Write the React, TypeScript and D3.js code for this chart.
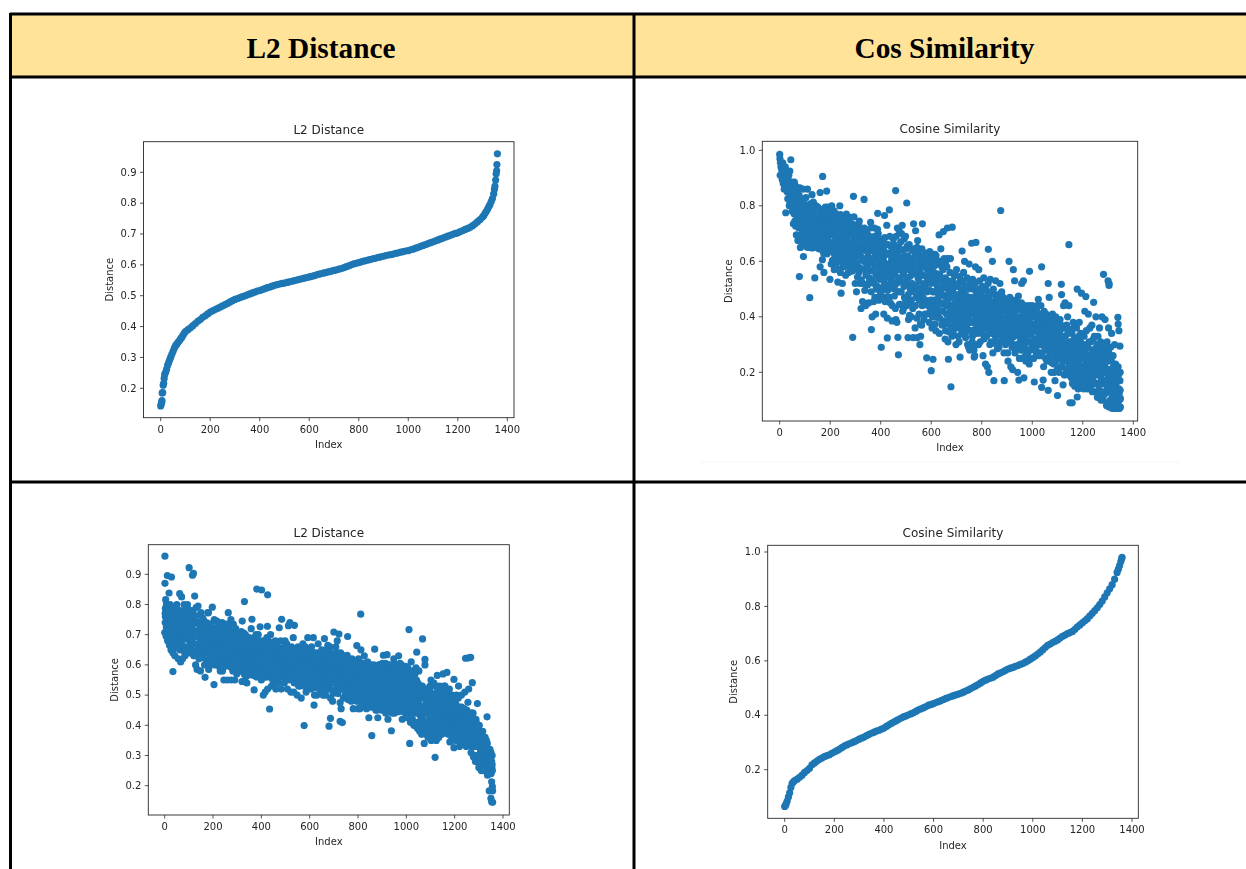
import React from "react";
import { scaleLinear } from "d3";

// values as [index, value]
const l2Sorted: number[][] = [[0,.143],[2,.148],[4,.155],[5,.16],[6,.185],[8,.186],[10,.21],[12,.216],[14,.232],[16,.245],[20,.252],[24,.262],[28,.275],[32,.283],[36,.292],[40,.3],[45,.31],[50,.32],[55,.33],[60,.338],[65,.343],[70,.349],[75,.354],[80,.36],[85,.365],[90,.372],[95,.378],[100,.384],[110,.39],[120,.396],[130,.403],[140,.41],[150,.417],[160,.423],[170,.43],[180,.435],[190,.441],[200,.447],[210,.451],[220,.455],[230,.459],[240,.463],[250,.467],[260,.471],[270,.475],[280,.48],[290,.484],[300,.488],[310,.491],[320,.494],[330,.497],[340,.5],[350,.503],[360,.506],[370,.509],[380,.512],[390,.515],[400,.517],[410,.52],[420,.523],[430,.526],[440,.528],[450,.531],[460,.534],[470,.536],[480,.538],[490,.54],[500,.541],[510,.543],[520,.545],[530,.547],[540,.549],[550,.551],[560,.553],[570,.555],[580,.557],[590,.559],[600,.561],[610,.563],[620,.565],[630,.568],[640,.57],[650,.572],[660,.574],[670,.576],[680,.578],[690,.58],[700,.582],[710,.584],[720,.586],[730,.588],[740,.591],[750,.594],[760,.597],[770,.6],[780,.603],[790,.605],[800,.607],[810,.61],[820,.612],[830,.614],[840,.616],[850,.618],[860,.62],[870,.622],[880,.624],[890,.626],[900,.628],[910,.63],[920,.632],[930,.633],[940,.635],[950,.637],[960,.639],[970,.641],[980,.643],[990,.645],[1000,.646],[1010,.649],[1020,.651],[1030,.654],[1040,.657],[1050,.66],[1060,.663],[1070,.666],[1080,.669],[1090,.672],[1100,.675],[1110,.678],[1120,.681],[1130,.684],[1140,.687],[1150,.69],[1160,.693],[1170,.696],[1180,.699],[1190,.702],[1200,.704],[1210,.708],[1220,.711],[1230,.715],[1240,.718],[1250,.722],[1260,.727],[1270,.733],[1280,.74],[1290,.747],[1300,.755],[1305,.76],[1310,.767],[1315,.773],[1320,.78],[1325,.788],[1330,.795],[1335,.805],[1340,.815],[1345,.83],[1348,.845],[1350,.855],[1353,.875],[1355,.895],[1357,.905],[1358,.925],[1360,.96]];

const cosSorted: number[][] = [[0,.065],[3,.068],[6,.075],[10,.085],[15,.1],[20,.115],[25,.135],[30,.15],[35,.155],[40,.16],[50,.165],[60,.172],[70,.18],[80,.19],[90,.197],[100,.205],[110,.218],[120,.225],[130,.232],[140,.238],[150,.243],[160,.248],[170,.252],[180,.255],[190,.26],[200,.265],[210,.27],[220,.275],[230,.281],[240,.287],[250,.291],[260,.295],[270,.299],[280,.303],[290,.307],[300,.312],[310,.316],[320,.32],[330,.325],[340,.33],[350,.334],[360,.338],[370,.342],[380,.345],[390,.349],[400,.353],[410,.359],[420,.365],[430,.37],[440,.375],[450,.38],[460,.385],[470,.39],[480,.395],[490,.398],[500,.402],[510,.406],[520,.41],[530,.415],[540,.42],[550,.424],[560,.428],[570,.432],[580,.437],[590,.44],[600,.443],[610,.447],[620,.45],[630,.454],[640,.458],[650,.462],[660,.465],[670,.469],[680,.472],[690,.475],[700,.478],[710,.481],[720,.485],[730,.489],[740,.493],[750,.498],[760,.503],[770,.508],[780,.513],[790,.519],[800,.525],[810,.529],[820,.533],[830,.536],[840,.54],[850,.546],[860,.552],[870,.556],[880,.56],[890,.565],[900,.57],[910,.573],[920,.576],[930,.58],[940,.583],[950,.587],[960,.59],[970,.595],[980,.6],[990,.606],[1000,.612],[1010,.618],[1020,.625],[1030,.632],[1040,.64],[1050,.649],[1060,.657],[1070,.662],[1080,.667],[1090,.672],[1100,.677],[1110,.684],[1120,.69],[1130,.695],[1140,.7],[1150,.704],[1160,.708],[1170,.716],[1180,.725],[1190,.732],[1200,.74],[1210,.747],[1220,.755],[1230,.765],[1240,.775],[1250,.785],[1260,.795],[1270,.807],[1280,.82],[1290,.835],[1300,.85],[1310,.865],[1320,.88],[1330,.9],[1340,.925],[1345,.937],[1350,.95],[1355,.965],[1358,.975],[1360,.98]];

const cosScatter: number[][] = [[0,.985],[1,.97],[3,.955],[5,.94],[2,.91],[8,.93],[10,.895],[12,.955],[14,.88],[16,.92],[18,.86],[20,.9],[22,.94],[24,.775],[26,.875],[28,.9],[30,.85],[32,.825],[34,.87],[36,.91],[38,.8],[40,.925],[42,.86],[44,.966],[46,.82],[48,.885],[50,.78],[52,.87],[54,.735],[56,.84],[58,.885],[60,.745],[62,.81],[64,.87],[66,.695],[68,.76],[70,.85],[72,.675],[74,.8],[76,.72],[78,.545],[80,.865],[82,.65],[84,.82],[86,.75],[88,.7],[90,.79],[92,.86],[94,.617],[96,.72],[98,.66],
[100,.77],[104,.83],[106,.68],[108,.74],[110,.86],[112,.7],[114,.65],[116,.8],[119,.469],[120,.76],[124,.67],[126,.72],[128,.84],[130,.78],[134,.65],[136,.74],[139,.54],[140,.7],[144,.8],[146,.66],[150,.76],[152,.72],[155,.645],[160,.848],[160,.58],[162,.78],[165,.69],[168,.74],[169,.606],[170,.906],[172,.66],[175,.56],[176,.79],[180,.72],[182,.64],[186,.853],[186,.76],[190,.68],[192,.795],[195,.74],[199,.535],[198,.655],
[204,.59],[206,.8],[208,.72],[212,.76],[214,.67],[216,.57],[220,.63],[222,.7],[225,.77],[228,.6],[230,.525],[232,.74],[235,.65],[238,.8],[240,.56],[243,.485],[244,.69],[246,.62],[248,.52],[250,.75],[252,.58],[255,.66],[258,.72],[262,.6],[264,.77],[266,.69],[270,.64],[272,.56],[275,.74],[278,.62],[280,.7],[284,.66],[286,.565],[289,.326],[292,.834],[294,.76],[296,.6],[298,.68],[299,.52],[300,.63],
[304,.49],[306,.72],[310,.58],[312,.66],[315,.745],[318,.52],[320,.62],[322,.43],[325,.69],[328,.455],[332,.6],[334,.823],[335,.72],[338,.66],[340,.44],[344,.56],[346,.7],[350,.63],[352,.45],[355,.54],[358,.68],[360,.74],[363,.354],[365,.6],[366,.4],[368,.53],[370,.66],[372,.455],[375,.72],[378,.58],[380,.41],[382,.5],[385,.64],[388,.773],[390,.7],[392,.46],[394,.56],[396,.62],[398,.68],
[402,.29],[404,.465],[406,.54],[410,.61],[412,.41],[415,.765],[418,.5],[420,.66],[422,.47],[424,.73],[426,.324],[426,.395],[428,.56],[430,.63],[432,.5],[434,.785],[436,.69],[438,.45],[440,.59],[442,.53],[445,.385],[448,.64],[450,.68],[452,.56],[455,.5],[459,.855],[460,.39],[462,.6],[464,.38],[466,.72],[468,.326],[470,.263],[470,.54],[472,.65],[475,.49],[478,.445],[480,.6],[482,.7],[485,.73],[488,.56],[490,.43],[492,.51],[495,.62],[498,.69],[500,.46],
[503,.81],[505,.655],[506,.58],[508,.325],[510,.39],[512,.52],[515,.61],[518,.45],[520,.4],[524,.56],[528,.325],[530,.735],[532,.645],[534,.5],[536,.36],[538,.71],[540,.47],[542,.6],[545,.325],[546,.675],[548,.54],[550,.64],[552,.41],[555,.3],[556,.56],[558,.33],[560,.49],[562,.37],[565,.735],[568,.6],[570,.45],[572,.52],[575,.41],[578,.63],[580,.5],[582,.252],[585,.57],[588,.44],[590,.62],[592,.38],[595,.54],[598,.46],[600,.206],[600,.6],
[603,.36],[607,.247],[608,.49],[610,.56],[612,.42],[615,.625],[618,.35],[620,.52],[622,.4],[625,.6],[628,.46],[631,.695],[632,.34],[634,.55],[636,.42],[638,.645],[640,.5],[642,.58],[645,.38],[648,.707],[650,.45],[652,.52],[655,.32],[658,.6],[660,.41],[664,.72],[664,.61],[666,.31],[668,.247],[670,.49],[672,.39],[674,.56],[676,.61],[678,.148],[680,.44],[682,.33],[683,.723],[685,.53],[688,.36],[690,.48],[692,.4],[695,.55],[698,.3],[700,.57],
[702,.44],[705,.37],[708,.52],[710,.31],[712,.46],[714,.255],[716,.53],[718,.4],[722,.637],[724,.35],[726,.49],[728,.56],[730,.43],[732,.6],[735,.34],[738,.5],[740,.39],[745,.45],[748,.29],[750,.59],[752,.28],[755,.42],[758,.35],[760,.665],[762,.31],[764,.535],[766,.47],[768,.38],[770,.255],[772,.26],[775,.58],[777,.668],[778,.41],[780,.3],[782,.45],[785,.36],[788,.57],[790,.5],[795,.43],[798,.34],[800,.39],
[802,.47],[805,.26],[808,.54],[810,.41],[812,.33],[815,.23],[816,.5],[820,.37],[822,.22],[824,.44],[826,.643],[828,.2],[830,.48],[832,.3],[834,.535],[836,.39],[838,.43],[840,.34],[842,.6],[844,.27],[846,.5],[848,.17],[850,.37],[852,.45],[855,.53],[858,.31],[860,.41],[864,.35],[866,.48],[868,.29],[870,.42],[872,.52],[875,.783],[878,.33],[880,.45],[882,.38],[885,.47],[888,.27],[889,.17],[892,.36],[895,.42],[898,.32],
[900,.46],[904,.24],[906,.39],[908,.6],[910,.34],[912,.44],[915,.22],[918,.37],[920,.29],[922,.21],[925,.57],[926,.42],[928,.33],[930,.53],[932,.27],[935,.4],[938,.46],[940,.35],[942,.2],[945,.475],[947,.172],[950,.38],[952,.31],[955,.43],[958,.52],[960,.25],[962,.36],[965,.53],[967,.18],[968,.41],[970,.29],[972,.44],[975,.24],[978,.33],[980,.38],[982,.27],[985,.42],[988,.23],[989,.564],[990,.35],[992,.31],[995,.4],[998,.29],
[1000,.44],[1002,.36],[1005,.25],[1008,.165],[1010,.32],[1012,.4],[1015,.28],[1018,.35],[1020,.44],[1022,.3],[1024,.463],[1026,.38],[1028,.33],[1030,.41],[1032,.27],[1035,.36],[1037,.58],[1037,.146],[1040,.3],[1042,.39],[1043,.172],[1045,.22],[1048,.33],[1050,.37],[1052,.28],[1055,.41],[1058,.24],[1060,.33],[1063,.52],[1063,.135],[1065,.3],[1067,.47],[1068,.38],[1070,.26],[1072,.35],[1075,.2],[1078,.32],[1080,.41],[1082,.29],[1085,.23],[1088,.37],[1090,.17],[1092,.31],[1095,.27],[1098,.39],[1100,.116],
[1102,.34],[1104,.25],[1106,.2],[1108,.3],[1110,.39],[1112,.28],[1115,.517],[1116,.48],[1118,.22],[1120,.33],[1122,.155],[1124,.44],[1126,.28],[1128,.36],[1130,.45],[1132,.24],[1135,.3],[1138,.2],[1140,.4],[1142,.26],[1145,.66],[1145,.44],[1148,.31],[1149,.09],[1150,.35],[1152,.22],[1155,.18],[1158,.09],[1160,.28],[1162,.38],[1164,.24],[1166,.32],[1168,.15],[1170,.21],[1172,.27],[1175,.36],[1178,.5],[1178,.111],[1180,.3],[1182,.14],[1184,.23],[1186,.38],[1188,.19],[1190,.28],[1192,.34],[1195,.485],[1196,.16],[1198,.25],
[1200,.3],[1202,.21],[1204,.14],[1206,.27],[1208,.42],[1210,.19],[1212,.473],[1214,.35],[1216,.24],[1218,.14],[1220,.29],[1222,.41],[1224,.2],[1226,.26],[1228,.36],[1230,.17],[1232,.31],[1234,.23],[1236,.37],[1238,.13],[1240,.28],[1243,.452],[1244,.19],[1246,.33],[1248,.24],[1250,.16],[1252,.4],[1254,.29],[1256,.21],[1258,.11],[1260,.33],[1262,.25],[1264,.14],[1266,.36],[1268,.19],[1270,.29],[1272,.1],[1274,.23],[1276,.4],[1278,.16],[1280,.3],[1282,.553],[1284,.22],[1286,.12],[1288,.39],[1290,.26],[1292,.17],[1294,.08],[1296,.31],[1298,.21],
[1300,.53],[1300,.13],[1302,.36],[1304,.513],[1304,.52],[1304,.075],[1306,.25],[1308,.17],[1310,.29],[1312,.1],[1314,.34],[1314,.21],[1316,.07],[1318,.15],[1320,.26],[1322,.09],[1324,.19],[1326,.07],[1326,.3],[1328,.13],[1330,.23],[1332,.07],[1332,.16],[1334,.1],[1336,.2],[1336,.07],[1338,.12],[1339,.398],[1340,.374],[1340,.22],[1340,.17],[1342,.07],[1343,.35],[1343,.14],[1345,.1],[1345,.07],[1347,.294],[1347,.17],[1348,.2],[1348,.135],[1349,.105],[1349,.075]];

// the thick middle of the band
const cosBand: number[][] = [[33,.893],[37,.848],[41,.812],[47,.856],[51,.833],[53,.797],[57,.771],[59,.822],[61,.853],[63,.727],[67,.786],[69,.814],[71,.738],[73,.773],[77,.838],[79,.757],[81,.795],[83,.692],[85,.783],[87,.812],[89,.733],[91,.671],[93,.764],[95,.823],[97,.692],[99,.744],[101,.803],[103,.713],[105,.757],[107,.652],[109,.785],[111,.727],[113,.768],[115,.693],[117,.748],[118,.663],[121,.807],[122,.716],[123,.753],[125,.694],[127,.784],[129,.648],[131,.733],[133,.813],[135,.702],[137,.765],[138,.678],[141,.747],[143,.652],[145,.723],[147,.771],[149,.692],[151,.795],[153,.657],[154,.743],[156,.705],[158,.774],[159,.668],[161,.727],[163,.643],[164,.756],[166,.712],[167,.785],[171,.694],[173,.747],[174,.629],[177,.765],[178,.676],[179,.729],[181,.795],[183,.701],[184,.754],[185,.66],[187,.723],[188,.627],[189,.786],[191,.704],[193,.745],[194,.664],[196,.713],[197,.772],[201,.636],[202,.695],[203,.747],[205,.666],[207,.775],[209,.603],[210,.698],[211,.735],[213,.654],[215,.782],[217,.713],[218,.622],[219,.674],[221,.748],[223,.592],[224,.656],[226,.723],[227,.686],[229,.757],[231,.637],[233,.704],[234,.571],[236,.675],[237,.733],[239,.613],[241,.768],[242,.642],[245,.714],[247,.685],[249,.592],[251,.734],[253,.641],[254,.703],[256,.583],[257,.757],[259,.661],[260,.712],[261,.55],[263,.625],[265,.735],[267,.593],[268,.673],[269,.744],[271,.704],[273,.624],[274,.667],[276,.583],[277,.711],[279,.652],[281,.758],[282,.606],[283,.725],[285,.642],[287,.693],[288,.565],[290,.733],[291,.623],[293,.675],[295,.712],[297,.58],[301,.707],[303,.652],
[305,.595],[307,.672],[308,.543],[309,.702],[311,.62],[313,.735],[314,.56],[316,.641],[317,.693],[319,.575],[321,.66],[323,.533],[324,.715],[326,.605],[327,.648],[329,.683],[330,.52],[331,.572],[333,.64],[336,.695],[337,.495],[339,.61],[341,.663],[342,.55],[343,.705],[345,.59],[347,.635],[348,.515],[349,.672],[351,.575],[353,.692],[354,.612],[356,.53],[357,.655],[359,.595],[361,.72],[362,.49],[364,.64],[367,.565],[369,.685],[371,.605],[373,.52],[374,.652],[376,.69],[377,.47],[379,.625],[381,.55],[383,.672],[384,.587],[386,.51],[387,.715],[389,.645],[391,.47],[393,.61],[395,.535],[397,.655],[399,.575],[400,.485],[401,.635],[403,.59],[405,.505],[407,.665],[408,.555],[409,.47],[411,.64],[413,.527],[414,.595],[416,.685],[417,.455],[419,.575],[421,.515],[423,.625],[425,.545],[427,.495],[429,.66],[431,.59],[433,.47],[435,.625],[437,.54],[439,.655],[441,.505],[443,.605],[444,.57],[446,.44],[447,.525],[449,.62],[451,.585],[453,.66],[454,.475],[456,.55],[457,.615],[458,.43],[461,.69],[463,.52],[465,.585],[467,.635],[469,.49],[471,.57],[473,.71],[474,.445],[476,.615],[477,.53],[479,.67],[481,.49],[483,.58],[484,.64],[486,.525],[487,.42],[489,.6],[491,.55],[493,.68],[494,.47],[496,.575],[497,.515],[499,.645],[501,.595],[502,.44],[504,.53],[507,.62],[509,.48],[511,.57],[513,.66],[514,.405],[516,.545],[517,.5],[519,.6],[521,.46],[523,.64],[525,.52],[526,.58],[527,.43],[529,.61],[531,.49],[533,.555],[535,.63],[537,.44],[539,.575],[541,.51],[543,.395],[544,.65],[547,.48],[549,.6],[551,.53],[553,.46],[554,.62],[557,.375],[559,.585],[561,.505],[563,.645],[564,.44],[566,.55],[567,.47],[569,.62],[571,.39],[573,.58],[574,.51],[576,.6],[577,.46],[579,.545],[581,.62],[583,.41],[584,.49],[586,.6],[587,.53],[589,.45],[591,.565],[593,.495],[594,.635],[596,.42],[597,.58],[599,.52],[601,.44],[602,.615],[604,.55],[605,.4],[606,.49],[609,.625],[611,.46],[613,.53],[614,.585],[616,.375],[617,.49],[619,.62],[621,.44],[623,.555],[624,.51],[626,.415],[627,.59],[629,.475],[630,.54],[633,.395],[635,.5],[637,.6],[639,.445],[641,.53],[643,.37],[644,.48],[646,.57],[647,.42],[649,.51],
[651,.61],[653,.385],[654,.475],[656,.54],[657,.35],[659,.44],[661,.505],[662,.58],[663,.375],[665,.46],[667,.53],[669,.41],[671,.345],[673,.485],[675,.43],[677,.52],[679,.365],[681,.47],[684,.405],[686,.5],[687,.34],[689,.445],[691,.55],[693,.38],[694,.48],[696,.42],[697,.515],[699,.36],[701,.46],[703,.39],[704,.51],[706,.43],[707,.33],[709,.48],[711,.41],[713,.545],[715,.365],[717,.45],[719,.5],[720,.34],[721,.42],[723,.47],[725,.385],[727,.53],[729,.36],[731,.455],[733,.405],[734,.51],[736,.325],[737,.44],[739,.475],[741,.37],[742,.54],[743,.42],[744,.3],[746,.5],[747,.395],[749,.46],[751,.35],[753,.52],[754,.41],[756,.3],[757,.47],[759,.38],[761,.44],[763,.33],[765,.5],[767,.415],[769,.28],[771,.46],[773,.355],[774,.52],[776,.395],[779,.49],[781,.34],[783,.43],[784,.375],[786,.47],[787,.3],[789,.41],[791,.53],[792,.36],[793,.45],[794,.31],[796,.49],[797,.385],[799,.44],[801,.35],[803,.51],[804,.415],[806,.38],[807,.46],[809,.32],[811,.495],[813,.43],[814,.36],[817,.41],[818,.47],[819,.33],[821,.445],[823,.39],[825,.52],[827,.35],[829,.42],[831,.46],[833,.37],[835,.405],[837,.31],[839,.49],[841,.395],[843,.44],[845,.355],[847,.41],[849,.305],[851,.48],[853,.38],[854,.33],[856,.43],[857,.46],[859,.36],[861,.39],[862,.285],[863,.44],[865,.34],[867,.41],[869,.37],[871,.465],[873,.31],[874,.395],[876,.43],[877,.35],[879,.49],[881,.375],[883,.42],[884,.325],[886,.395],[887,.46],[889,.34],[891,.43],[893,.385],[894,.3],[896,.455],[897,.36],[899,.405],[901,.33],[902,.44],[903,.27],[905,.375],[907,.42],[909,.355],[911,.47],[913,.31],[914,.4],[916,.35],[917,.44],[919,.385],[921,.325],[923,.46],[924,.37],[927,.3],[929,.41],[931,.36],[933,.445],[934,.29],[936,.39],[937,.34],[939,.425],[941,.37],[943,.3],[944,.44],[946,.35],[948,.4],[949,.25],[951,.33],
[953,.425],[954,.37],[956,.28],[957,.45],[959,.34],[961,.395],[963,.3],[964,.42],[966,.35],[969,.255],[971,.38],[973,.32],[974,.405],[976,.27],[977,.43],[979,.36],[981,.31],[983,.4],[984,.25],[986,.345],[987,.44],[991,.38],[993,.28],[994,.42],[996,.335],[997,.37],[999,.25],[1001,.4],[1003,.31],[1004,.37],[1006,.43],[1007,.285],[1009,.35],[1011,.41],[1013,.32],[1014,.375],[1016,.27],[1017,.43],[1019,.31],[1021,.39],[1023,.345],[1025,.26],[1027,.41],[1029,.37],[1031,.3],[1033,.35],[1034,.44],[1036,.32],[1038,.4],[1039,.26],[1041,.345],[1044,.38],[1046,.295],[1047,.42],[1049,.31],[1051,.35],[1053,.25],[1054,.39],[1056,.3],[1057,.36],[1059,.28],[1061,.4],[1062,.315],[1064,.37],[1066,.255],[1069,.34],[1071,.295],[1073,.39],[1074,.32],[1076,.235],[1077,.37],[1079,.28],[1081,.345],[1083,.39],[1084,.26],[1086,.31],[1087,.2],[1089,.35],[1091,.285],[1093,.4],[1094,.24],[1096,.33],[1097,.3],[1099,.21],[1101,.365],[1103,.29],[1105,.34],[1107,.26],[1109,.35],[1111,.22],[1113,.31],[1114,.37],[1117,.27],[1119,.315],[1121,.24],[1123,.36],[1125,.3],[1127,.19],[1129,.26],[1131,.33],[1133,.28],[1134,.21],[1136,.37],[1137,.305],[1139,.25],[1141,.34],[1143,.19],[1144,.29],[1146,.225],[1147,.355],[1151,.27],[1153,.31],[1154,.2],
[1156,.25],[1157,.34],[1159,.16],[1161,.3],[1163,.22],[1165,.27],[1167,.37],[1169,.19],[1171,.25],[1173,.31],[1174,.17],[1176,.23],[1177,.29],[1179,.2],[1181,.26],[1183,.33],[1185,.15],[1187,.25],[1189,.21],[1191,.31],[1193,.18],[1194,.26],[1197,.22],[1199,.29],[1201,.17],[1203,.25],[1205,.33],[1207,.2],[1209,.28],[1211,.23],[1213,.15],[1215,.3],[1217,.21],[1219,.26],[1221,.17],[1223,.24],[1225,.31],[1227,.19],[1229,.25],[1231,.22],[1233,.15],[1235,.28],[1237,.2],[1239,.245],[1241,.17],[1242,.32],[1245,.23],[1247,.27],[1249,.13],[1251,.21],[1253,.25],[1255,.16],[1257,.3],[1259,.19],[1261,.24],[1263,.12],[1265,.27],[1267,.16],[1269,.22],[1271,.31],[1273,.18],[1275,.13],[1277,.25],[1279,.2],[1281,.1],[1283,.27],[1285,.17],[1287,.225],[1289,.13],[1291,.2],[1293,.29],[1295,.15],[1297,.24],[1299,.09],[1301,.19],[1303,.27],[1305,.14],[1307,.21],[1309,.1],[1311,.17],[1313,.24],[1315,.12],[1317,.19],[1319,.08],[1321,.22],[1323,.15],[1325,.1],[1327,.2],[1329,.17],[1331,.08],[1333,.22],[1335,.13],[1337,.17],[1339,.09],[1341,.19],[1344,.12]];

const l2Scatter: number[][] = [[0,.707],[1,.96],[1,.87],[2,.77],[3,.76],[4,.816],[4,.785],[5,.74],[6,.695],[7,.8],[8,.76],[10,.72],[11,.896],[12,.68],[14,.79],[15,.75],[16,.7],[18,.838],[18,.77],[20,.665],[21,.73],[23,.8],[25,.71],[26,.65],[28,.891],[28,.76],[30,.78],[32,.68],[34,.578],[34,.64],[36,.745],[38,.79],[40,.7],[42,.63],[44,.76],[46,.66],[48,.72],[50,.8],[52,.68],[54,.75],[56,.62],[58,.71],[60,.78],[62,.836],[62,.65],[64,.74],[66,.61],[68,.69],[70,.825],[72,.77],[74,.62],[76,.72],[78,.66],[80,.8],[82,.75],[84,.63],[86,.69],[88,.78],[90,.725],[92,.65],[94,.8],[96,.7],[98,.76],
[101,.922],[102,.64],[104,.72],[106,.68],[108,.76],[110,.65],[112,.73],[115,.897],[116,.69],[119,.903],[118,.78],[120,.63],[122,.75],[124,.828],[125,.67],[128,.6],[130,.79],[132,.71],[134,.585],[136,.65],[138,.795],[140,.74],[142,.62],[145,.69],[148,.58],[150,.773],[152,.66],[155,.72],[158,.63],[160,.75],[162,.68],[165,.6],[167,.559],[168,.7],[170,.65],[173,.74],[176,.67],[178,.773],[181,.773],[182,.585],[184,.62],[186,.7],[188,.66],[190,.6],[192,.735],[194,.65],[197,.791],[198,.69],[200,.63],
[204,.535],[205,.75],[206,.67],[208,.72],[210,.6],[212,.64],[215,.7],[218,.66],[220,.6],[222,.73],[225,.63],[228,.68],[230,.58],[232,.71],[235,.65],[238,.74],[240,.61],[242,.68],[245,.55],[248,.7],[250,.64],[252,.72],[255,.6],[258,.67],[260,.55],[263,.773],[264,.63],[266,.72],[268,.69],[270,.595],[272,.66],[274,.75],[276,.55],[278,.62],[280,.7],[282,.58],[284,.735],[286,.64],[288,.68],[290,.55],[292,.6],[294,.72],[296,.65],[298,.57],[300,.68],
[302,.62],[305,.7],[308,.58],[310,.66],[312,.63],[315,.6],[318,.68],[320,.545],[321,.745],[322,.64],[325,.67],[328,.6],[330,.81],[332,.55],[334,.7],[336,.63],[338,.67],[340,.54],[342,.58],[345,.65],[348,.6],[350,.69],[352,.63],[355,.57],[358,.72],[361,.751],[360,.61],[362,.66],[365,.68],[368,.59],[370,.517],[372,.64],[375,.6],[378,.7],[381,.851],[380,.56],[382,.66],[385,.62],[388,.68],[390,.58],[392,.64],[395,.726],[396,.6],[398,.67],[400,.55],
[401,.848],[402,.62],[405,.68],[408,.5],[410,.58],[412,.65],[414,.6],[416,.51],[418,.66],[420,.56],[422,.62],[425,.728],[426,.832],[426,.52],[428,.68],[430,.6],[432,.64],[434,.454],[436,.56],[438,.7],[440,.62],[442,.53],[445,.66],[448,.58],[450,.64],[452,.54],[455,.6],[458,.68],[460,.52],[462,.63],[465,.57],[468,.66],[470,.61],[472,.54],[474,.723],[476,.64],[478,.58],[480,.68],[482,.52],[484,.751],[485,.62],[488,.56],[490,.65],[492,.6],[495,.54],[498,.68],[500,.63],
[502,.58],[505,.67],[508,.52],[510,.62],[512,.73],[514,.56],[516,.65],[518,.74],[520,.6],[522,.51],[525,.66],[528,.57],[530,.63],[532,.69],[534,.51],[537,.731],[538,.6],[540,.55],[542,.65],[545,.58],[548,.5],[550,.62],[552,.66],[555,.56],[558,.6],[560,.53],[562,.65],[565,.49],[568,.58],[570,.63],[572,.67],[574,.54],[577,.399],[578,.6],[580,.56],[582,.66],[585,.51],[588,.62],[590,.58],[592,.69],[595,.54],[598,.63],[600,.57],
[602,.61],[605,.52],[608,.66],[610,.58],[612,.63],[615,.69],[618,.467],[618,.55],[620,.5],[622,.6],[625,.64],[628,.56],[630,.5],[632,.61],[635,.67],[638,.54],[640,.6],[642,.63],[645,.52],[648,.57],[650,.65],[652,.6],[655,.5],[658,.55],[661,.687],[660,.62],[662,.58],[665,.53],[668,.65],[670,.6],[672,.56],[675,.665],[678,.52],[680,.397],[680,.62],[682,.58],[684,.66],[686,.423],[686,.49],[688,.55],[690,.6],[692,.64],[695,.48],[698,.57],[700,.709],[700,.62],
[702,.56],[705,.6],[708,.66],[710,.52],[712,.58],[714,.68],[716,.55],[718,.62],[721,.702],[722,.53],[724,.6],[726,.413],[726,.475],[728,.64],[730,.455],[732,.56],[735,.409],[736,.61],[738,.52],[740,.58],[742,.63],[745,.55],[748,.5],[750,.6],[752,.56],[755,.632],[757,.694],[758,.52],[760,.485],[762,.59],[765,.54],[768,.6],[770,.56],[772,.48],[775,.62],[778,.52],[780,.455],[782,.58],[785,.61],[788,.545],[790,.6],[792,.5],[795,.664],[796,.48],[798,.56],[800,.455],
[802,.62],[805,.52],[808,.58],[808,.455],[811,.768],[812,.65],[814,.56],[816,.5],[818,.6],[820,.54],[824,.58],[826,.63],[828,.48],[830,.52],[832,.6],[835,.455],[838,.56],[840,.61],[842,.5],[845,.425],[846,.54],[848,.47],[850,.58],[852,.6],[855,.52],[857,.366],[858,.48],[860,.56],[862,.51],[865,.6],[868,.46],[869,.652],[870,.53],[872,.57],[875,.49],[878,.45],[880,.54],[882,.425],[884,.59],[886,.51],[888,.47],[890,.56],[892,.6],[895,.53],[898,.45],[900,.5],
[902,.57],[905,.632],[908,.47],[910,.53],[912,.59],[915,.44],[918,.51],[920,.634],[922,.56],[924,.42],[926,.48],[928,.53],[930,.59],[932,.46],[935,.55],[938,.382],[938,.5],[940,.6],[942,.44],[945,.54],[948,.62],[950,.49],[952,.57],[955,.45],[958,.52],[960,.6],[962,.47],[965,.55],[968,.63],[970,.5],[972,.57],[975,.45],[978,.53],[980,.6],[982,.48],[985,.455],[988,.55],[990,.58],[992,.5],[995,.53],[998,.46],[1000,.57],
[1002,.425],[1004,.5],[1006,.59],[1008,.54],[1011,.717],[1012,.47],[1014,.34],[1014,.56],[1016,.44],[1018,.51],[1020,.61],[1022,.48],[1024,.55],[1026,.44],[1028,.58],[1030,.5],[1032,.46],[1035,.53],[1038,.41],[1040,.59],[1043,.642],[1044,.49],[1046,.39],[1048,.54],[1050,.44],[1052,.58],[1054,.4],[1056,.5],[1058,.46],[1060,.38],[1062,.53],[1064,.42],[1067,.686],[1068,.49],[1070,.38],[1072,.45],[1074,.34],[1077,.6],[1077,.618],[1076,.52],[1078,.41],[1080,.47],[1082,.39],[1085,.5],[1088,.44],[1090,.36],[1092,.41],[1095,.48],[1098,.53],[1100,.45],
[1102,.55],[1104,.38],[1106,.49],[1108,.42],[1110,.36],[1112,.5],[1115,.44],[1119,.294],[1120,.53],[1122,.39],[1124,.35],[1126,.47],[1128,.565],[1130,.42],[1132,.5],[1134,.36],[1136,.45],[1138,.53],[1140,.4],[1142,.48],[1145,.385],[1148,.44],[1150,.5],[1152,.57],[1154,.41],[1156,.46],[1158,.38],[1160,.53],[1162,.43],[1165,.49],[1168,.575],[1170,.39],[1172,.46],[1175,.42],[1178,.52],[1180,.345],[1182,.44],[1184,.49],[1186,.38],[1188,.41],[1190,.5],[1192,.36],[1194,.45],[1197,.552],[1197,.326],[1198,.41],[1200,.48],
[1202,.39],[1204,.43],[1206,.35],[1208,.5],[1210,.41],[1212,.37],[1214,.45],[1216,.53],[1218,.4],[1220,.33],[1222,.46],[1224,.38],[1226,.43],[1228,.5],[1230,.36],[1232,.41],[1234,.45],[1236,.34],[1238,.39],[1240,.43],[1242,.51],[1244,.36],[1245,.622],[1246,.41],[1248,.33],[1250,.45],[1252,.38],[1254,.42],[1255,.476],[1256,.35],[1257,.623],[1258,.52],[1260,.4],[1262,.44],[1264,.36],[1266,.625],[1268,.31],[1270,.42],[1272,.38],[1273,.541],[1274,.35],[1276,.44],[1278,.295],[1280,.4],[1282,.33],[1284,.37],[1286,.28],[1288,.42],[1290,.34],[1292,.39],[1294,.472],[1296,.3],[1298,.36],[1300,.26],
[1302,.4],[1304,.33],[1306,.29],[1308,.37],[1310,.25],[1312,.35],[1314,.31],[1316,.38],[1318,.28],[1320,.345],[1322,.25],[1324,.32],[1326,.36],[1328,.29],[1330,.26],[1332,.33],[1334,.428],[1334,.31],[1336,.235],[1338,.29],[1340,.32],[1340,.26],[1342,.24],[1343,.183],[1344,.3],[1345,.27],[1346,.32],[1348,.25],[1349,.29],[1350,.158],[1350,.31],[1351,.24],[1352,.27],[1353,.213],[1353,.147],[1354,.26],[1355,.3],[1356,.197],[1356,.25],[1357,.183],[1357,.145]];

const l2Band: number[][] = [[2,.74],[3,.787],[5,.772],[6,.757],[7,.725],[9,.786],[11,.748],[13,.762],[14,.705],[15,.694],[17,.782],[19,.736],[20,.792],[22,.703],[24,.756],[25,.773],[27,.686],[29,.732],[31,.745],[33,.712],[35,.767],[37,.655],[39,.775],[41,.735],[43,.698],[45,.786],[47,.745],[49,.672],[51,.753],[53,.718],[55,.782],[57,.663],[59,.745],[61,.692],[63,.764],[65,.706],[67,.655],[69,.752],[71,.683],[73,.735],[75,.664],[77,.78],[79,.702],[81,.644],[83,.724],[85,.763],[87,.647],[89,.703],[91,.757],[93,.685],[95,.735],[97,.642],[99,.713],[100,.783],[103,.665],[105,.745],[107,.703],[109,.654],[111,.772],[113,.686],[114,.64],[117,.733],[121,.695],[123,.762],[126,.645],[127,.712],[129,.668],[131,.74],[133,.635],[135,.695],[137,.742],[139,.665],[141,.705],[143,.765],[144,.635],[146,.724],[147,.675],[149,.645],
[151,.735],[153,.695],[154,.625],[156,.663],[157,.755],[159,.702],[161,.64],[163,.722],[164,.668],[166,.645],[169,.735],[171,.69],[172,.615],[174,.66],[175,.715],[177,.64],[179,.695],[180,.605],[183,.675],[185,.735],[187,.645],[189,.685],[191,.625],[193,.705],[195,.665],[196,.61],[199,.72],[201,.66],[203,.695],[207,.63],[209,.685],[211,.71],[213,.615],[214,.665],[216,.745],[217,.635],[219,.69],[221,.655],[223,.61],[224,.7],[226,.665],[227,.595],[229,.72],[231,.64],[233,.685],[234,.615],[236,.665],[237,.705],[239,.58],[241,.655],[243,.695],[244,.625],[246,.675],[247,.595],[249,.66],[251,.7],[253,.625],[254,.68],[256,.64],[257,.735],[259,.605],[261,.665],[262,.695],[265,.6],[267,.66],[269,.64],[271,.71],[273,.61],[275,.675],[277,.645],[279,.59],[281,.665],[283,.62],[285,.695],[287,.6],[289,.65],[291,.705],[293,.625],[295,.675],[297,.6],[299,.645],[301,.59],[303,.665],[304,.63],[306,.685],[307,.605],[309,.645],[311,.69],[313,.58],[314,.655],[316,.62],[317,.71],[319,.64],[323,.59],[324,.665],[326,.63],[327,.705],[329,.57],[331,.645],[333,.615],[335,.675],[337,.595],[339,.645],[341,.62],[343,.69],[344,.565],[346,.635],[347,.6],[349,.66],[351,.58],[353,.62],[354,.68],[356,.6],[357,.64],[359,.665],[363,.59],[364,.63],[366,.655],[367,.565],[369,.62],[371,.69],[373,.6],[374,.66],[376,.57],[377,.635],[379,.605],[383,.65],[384,.585],[386,.635],[387,.7],[389,.61],[391,.66],[393,.58],[394,.625],[397,.645],[399,.6],[403,.655],[404,.565],[406,.625],[407,.59],[409,.67],[411,.6],[413,.64],[415,.56],[417,.615],[419,.65],[421,.585],[423,.69],[424,.625],[427,.6],[429,.64],[431,.565],[433,.615],[435,.66],[437,.59],[439,.635],[441,.57],[443,.61],[444,.675],[446,.6],[447,.55],[449,.63],[451,.595],[453,.655],[454,.565],[456,.62],[457,.645],[459,.58],[461,.6],[463,.66],[464,.545],[466,.615],[467,.63],[469,.585],[471,.65],[473,.6],[475,.56],[477,.62],[479,.655],[481,.59],[483,.63],[486,.565],[487,.655],[489,.6],[491,.58],[493,.63],[494,.66],[496,.61],[497,.56],[499,.595],
[501,.645],[503,.615],[504,.555],[506,.6],[507,.64],[509,.58],[511,.655],[513,.61],[515,.55],[517,.625],[519,.59],[521,.645],[523,.57],[524,.61],[526,.635],[527,.555],[529,.6],[531,.65],[533,.58],[535,.62],[536,.54],[539,.645],[541,.59],[543,.615],[544,.56],[546,.635],[547,.6],[549,.565],[551,.61],[553,.64],[554,.53],[556,.585],[557,.625],[559,.65],[561,.57],[563,.61],[564,.54],[566,.6],[567,.635],[569,.56],[571,.595],[573,.62],[575,.53],[576,.65],[579,.585],[581,.615],[583,.545],[584,.6],[586,.635],[587,.565],[589,.605],[591,.64],[593,.525],[594,.59],[596,.62],[597,.555],[599,.6],[601,.645],[603,.575],[604,.535],[606,.61],[607,.59],[609,.63],[611,.545],[613,.6],[614,.565],[616,.62],[617,.64],[619,.58],[621,.525],[623,.61],[624,.56],[626,.595],[627,.63],[629,.53],[631,.585],[633,.545],[634,.615],[636,.6],[637,.56],[639,.64],[641,.575],[643,.51],[644,.6],[646,.55],[647,.625],[649,.58],[651,.535],[653,.61],[654,.57],[656,.64],[657,.52],[659,.59],[661,.55],[663,.615],[664,.575],[666,.5],[667,.63],[669,.545],[671,.59],[673,.615],[674,.53],[676,.57],[677,.64],[679,.6],[681,.54],[683,.61],[685,.565],[687,.52],[689,.59],[691,.63],[693,.55],[694,.61],[696,.57],[697,.505],[699,.6],[701,.54],[703,.58],[704,.63],[706,.515],[707,.57],[709,.605],[711,.545],[713,.6],[715,.64],[717,.505],[719,.565],[720,.59],[723,.54],[725,.575],[727,.61],[729,.52],[731,.59],[733,.55],[734,.63],[737,.57],[739,.49],[741,.6],[743,.535],[744,.57],[746,.61],[747,.515],[749,.555],[751,.585],[753,.5],[754,.62],[756,.565],[759,.54],[761,.6],[763,.51],[764,.57],[766,.59],[767,.525],[769,.545],[771,.605],[773,.56],[774,.5],[776,.58],[777,.54],[779,.595],[781,.52],[783,.565],[784,.61],[786,.49],[787,.55],[789,.585],[791,.53],[793,.6],[794,.565],[797,.515],[799,.58],
[801,.54],[803,.595],[804,.48],[806,.56],[807,.61],[809,.525],[810,.49],[813,.59],[815,.535],[817,.57],[819,.47],[821,.605],[822,.51],[823,.555],[825,.6],[827,.53],[829,.57],[831,.49],[833,.55],[834,.585],[836,.51],[837,.465],[839,.53],[841,.57],[843,.6],[844,.48],[847,.55],[849,.515],[851,.575],[853,.46],[854,.535],[856,.59],[859,.5],[861,.545],[863,.575],[864,.47],[866,.53],[867,.595],[871,.505],[873,.55],[874,.45],[876,.525],[877,.575],[879,.49],[881,.56],[883,.51],[885,.6],[887,.455],[889,.535],[891,.57],[893,.49],[894,.52],[896,.585],[897,.47],[899,.545],[901,.605],[903,.5],[904,.54],[906,.46],[907,.575],[909,.52],[911,.49],[913,.56],[914,.605],[916,.47],[917,.535],[919,.58],[921,.505],[923,.545],[925,.6],[927,.46],[929,.515],[931,.565],[933,.49],[934,.535],[936,.6],[937,.455],[939,.52],[941,.57],[943,.495],[944,.545],[946,.47],[947,.59],[949,.525],[951,.44],[953,.5],[954,.55],[956,.6],[957,.48],[959,.535],[961,.46],[963,.57],[964,.51],[966,.59],[967,.445],[969,.53],[971,.48],[973,.55],[974,.605],[976,.5],[977,.46],[979,.565],[981,.52],[983,.42],[984,.585],[986,.49],[987,.54],[989,.445],[991,.52],[993,.56],[994,.47],[996,.505],[997,.595],[999,.43],[1001,.53],[1003,.48],[1005,.55],[1007,.45],[1009,.515],[1010,.58],[1013,.5],[1015,.53],[1017,.41],[1019,.47],[1021,.56],[1023,.51],[1025,.42],[1027,.49],[1029,.54],[1031,.4],[1033,.52],[1034,.47],[1036,.57],[1037,.44],[1039,.5],[1041,.4],[1042,.55],[1045,.46],[1047,.51],[1049,.41],
[1051,.47],[1053,.52],[1055,.38],[1057,.49],[1059,.43],[1061,.5],[1063,.37],[1065,.46],[1066,.53],[1069,.42],[1071,.5],[1073,.39],[1075,.46],[1079,.5],[1081,.37],[1083,.44],[1084,.52],[1086,.41],[1087,.48],[1089,.39],[1091,.46],[1093,.5],[1094,.37],[1096,.43],[1097,.515],[1099,.4],[1101,.47],[1103,.35],[1105,.43],[1107,.505],[1109,.39],[1111,.46],[1113,.41],[1114,.54],[1116,.37],[1117,.48],[1121,.43],[1123,.5],[1125,.385],[1127,.44],[1129,.52],[1131,.46],[1133,.4],[1135,.49],[1137,.37],[1139,.43],[1141,.51],[1143,.41],[1144,.46],[1146,.52],[1147,.37],[1149,.47],[1151,.43],[1153,.39],[1155,.49],[1157,.53],[1159,.41],[1161,.46],[1163,.5],[1164,.38],[1166,.44],[1167,.405],[1169,.47],[1171,.51],[1173,.37],[1174,.44],[1176,.49],[1177,.4],[1179,.46],[1181,.38],[1183,.425],[1185,.48],[1187,.35],[1189,.44],[1191,.4],[1193,.47],[1195,.37],[1196,.43],[1199,.39],[1201,.45],[1203,.41],[1205,.47],[1207,.38],[1209,.43],[1211,.35],[1213,.41],[1215,.49],[1217,.37],[1219,.43],[1221,.39],[1223,.44],[1225,.35],[1227,.41],[1229,.46],[1231,.38],[1233,.43],[1235,.36],[1237,.41],[1239,.455],[1241,.37],[1243,.42],[1245,.39],[1247,.35],[1249,.43],
[1251,.37],[1253,.41],[1257,.38],[1259,.43],[1261,.345],[1263,.4],[1265,.44],[1267,.37],[1269,.41],[1271,.33],[1273,.44],[1275,.39],[1277,.3],[1279,.36],[1281,.42],[1283,.3],[1285,.39],[1287,.345],[1289,.41],[1291,.28],[1293,.37],[1295,.33],[1297,.4],[1299,.3],[1301,.35],[1303,.27],[1305,.38],[1307,.315],[1309,.35],[1311,.29],[1313,.37],[1315,.26],[1317,.34],[1319,.31],[1321,.36],[1323,.28],[1325,.34],[1327,.25],[1329,.32],[1331,.35],[1333,.28],[1335,.34],[1337,.27],[1339,.315],[1341,.28],[1343,.25],[1345,.31],[1347,.28],[1349,.26],[1351,.3],[1353,.28],[1355,.27]];

const xTicks = [0, 200, 400, 600, 800, 1000, 1200, 1400];
const l2Ticks = [0.2, 0.3, 0.4, 0.5, 0.6, 0.7, 0.8, 0.9];
const cosTicks = [0.2, 0.4, 0.6, 0.8, 1.0];

const FONT = "'DejaVu Sans', sans-serif";
const BLUE = "#1f77b4";
const INK = "#262626";

type PanelProps = {
  title: string;
  data: number[][];
  yTicks: number[];
  box: { left: number; right: number; top: number; bottom: number };
  xRange: number[];
  yDomain: number[];
  yRange: number[];
};

const Panel = ({ title, data, yTicks, box, xRange, yDomain, yRange }: PanelProps) => {
  const xScale = scaleLinear().domain([0, 1400]).range(xRange);
  const yScale = scaleLinear().domain(yDomain).range(yRange);
  const midX = (box.left + box.right) / 2;
  const midY = (box.top + box.bottom) / 2;

  return (
    <g fontFamily={FONT} fill={INK} filter="url(#soft)">
      {data.map((d, i) => (
        <circle key={i} cx={xScale(d[0])} cy={yScale(d[1])} r={3.6} fill={BLUE} />
      ))}
      <rect
        x={box.left}
        y={box.top}
        width={box.right - box.left}
        height={box.bottom - box.top}
        fill="none"
        stroke={INK}
        strokeWidth={0.9}
      />
      {xTicks.map((t) => (
        <g key={t} transform={`translate(${xScale(t)},${box.bottom})`}>
          <line y2={3.5} stroke={INK} strokeWidth={0.8} />
          <text y={12} dy=".32em" fontSize={10} textAnchor="middle">
            {t}
          </text>
        </g>
      ))}
      {yTicks.map((t) => (
        <g key={t} transform={`translate(${box.left},${yScale(t)})`}>
          <line x2={-3.5} stroke={INK} strokeWidth={0.8} />
          <text x={-7} dy=".32em" fontSize={10} textAnchor="end">
            {t.toFixed(1)}
          </text>
        </g>
      ))}
      <text x={midX} y={box.top - 12} dy=".32em" fontSize={12} textAnchor="middle">
        {title}
      </text>
      <text x={midX} y={box.bottom + 27} dy=".32em" fontSize={10} textAnchor="middle">
        Index
      </text>
      <text
        transform={`translate(${box.left - 34},${midY}) rotate(-90)`}
        dy=".32em"
        fontSize={10}
        textAnchor="middle"
      >
        Distance
      </text>
    </g>
  );
};

export default function App() {
  const width = 1246;
  const height = 869;
  return (
    <svg
      width={width}
      height={height}
      style={{ position: "absolute", left: 0, top: 0, background: "#fff" }}
    >
      <defs>
        <filter id="soft" x="-5%" y="-5%" width="110%" height="110%">
          <feGaussianBlur stdDeviation="0.35" />
        </filter>
      </defs>

      <rect x={10} y={13} width={width - 10} height={64} fill="#ffe399" />
      <g fill="none" stroke="#000" strokeWidth={3}>
        <line x1={10} y1={14} x2={width} y2={14} />
        <line x1={10} y1={77} x2={width} y2={77} />
        <line x1={10} y1={482} x2={width} y2={482} />
        <line x1={10.5} y1={13} x2={10.5} y2={height} />
        <line x1={634} y1={13} x2={634} y2={height} />
      </g>
      <g fontFamily="'Liberation Serif', serif" fontWeight="bold" fontSize={29.3} fill="#000" textAnchor="middle">
        <text x={321} y={58}>L2 Distance</text>
        <text x={944.5} y={58}>Cos Similarity</text>
      </g>
      <line x1={700} y1={462} x2={1180} y2={462} stroke="#f6f6f6" />

      <Panel
        title="L2 Distance"
        data={l2Sorted}
        yTicks={l2Ticks}
        box={{ left: 143.5, right: 514, top: 141.7, bottom: 417.7 }}
        xRange={[160.7, 507.3]}
        yDomain={[0.2, 0.9]}
        yRange={[388.3, 172.3]}
      />
      <Panel
        title="Cosine Similarity"
        data={cosScatter.concat(cosBand)}
        yTicks={cosTicks}
        box={{ left: 762.3, right: 1137.7, top: 141.3, bottom: 421 }}
        xRange={[779.7, 1133.3]}
        yDomain={[0.2, 1.0]}
        yRange={[372.3, 150.3]}
      />
      <Panel
        title="L2 Distance"
        data={l2Scatter.concat(l2Band)}
        yTicks={l2Ticks}
        box={{ left: 148.3, right: 509.3, top: 544.7, bottom: 815 }}
        xRange={[164.7, 503]}
        yDomain={[0.2, 0.9]}
        yRange={[785.7, 574.3]}
      />
      <Panel
        title="Cosine Similarity"
        data={cosSorted}
        yTicks={cosTicks}
        box={{ left: 767.7, right: 1138.3, top: 545.3, bottom: 818.3 }}
        xRange={[784.7, 1132]}
        yDomain={[0.2, 1.0]}
        yRange={[769.7, 552]}
      />
    </svg>
  );
}
